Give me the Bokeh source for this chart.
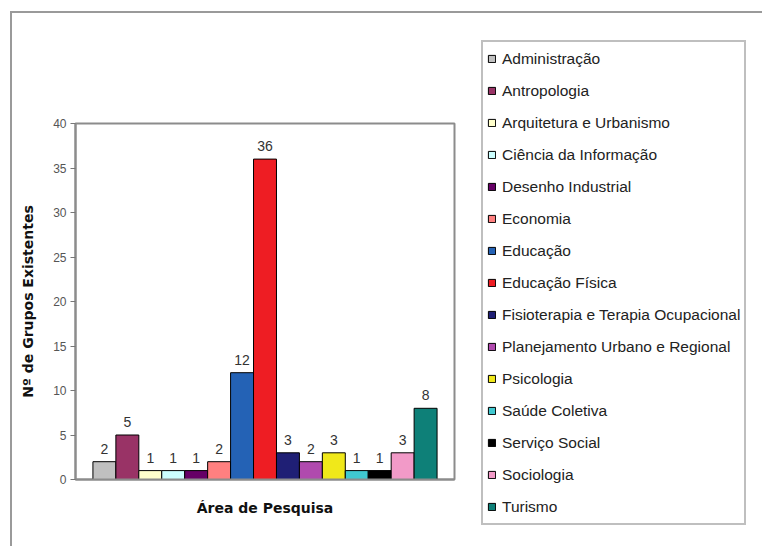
from bokeh.plotting import figure
from bokeh.models import Range1d, ColumnDataSource, Legend, LegendItem, FixedTicker, LabelSet
from bokeh.core.properties import value
from bokeh.embed import file_html
from bokeh.resources import INLINE

categories = ["Administração", "Antropologia", "Arquitetura e Urbanismo", "Ciência da Informação",
              "Desenho Industrial", "Economia", "Educação", "Educação Física",
              "Fisioterapia e Terapia Ocupacional", "Planejamento Urbano e Regional", "Psicologia",
              "Saúde Coletiva", "Serviço Social", "Sociologia", "Turismo"]
values = [2, 5, 1, 1, 1, 2, 12, 36, 3, 2, 3, 1, 1, 3, 8]
colors = ["#C0C0C0", "#993366", "#FFFFCC", "#CCFFFF", "#660066", "#FF8080", "#2462B5", "#EE1D23",
          "#1F1F75", "#B04AAE", "#F0E81A", "#40C8D0", "#000000", "#F29AC8", "#0E8078"]
y_ticks = [0, 5, 10, 15, 20, 25, 30, 35, 40]

p = figure(frame_width=379, frame_height=356, output_backend="svg", toolbar_location=None,
           x_range=Range1d(-1.26, 15.26), y_range=Range1d(0, 40),
           min_border_left=63, min_border_right=306, min_border_top=110, min_border_bottom=67)
p.margin = (11, 0, 0, 10)
p.styles = {"border-top": "2px solid #9a9a9a", "border-left": "2px solid #9a9a9a",
            "border-right": "1px solid #dddddd"}
p.background_fill_color = "white"
p.border_fill_color = "white"
p.outline_line_color = "#8c8c8c"
p.outline_line_width = 2
p.grid.visible = False

xs = list(range(len(categories)))
src = ColumnDataSource(dict(x=xs, top=values, lab=[str(v) for v in values]))

items = []
for i, c in enumerate(categories):
    r = p.vbar(x=[xs[i]], top=[values[i]], width=1.0, bottom=0,
               fill_color=colors[i], line_color="black", line_width=1)
    items.append(LegendItem(label=c, renderers=[r]))

labels = LabelSet(x="x", y="top", text="lab", source=src, text_align="center",
                  text_baseline="bottom", y_offset=8, text_font=value("Liberation Sans"),
                  text_font_size="14px", text_color="#333333")
p.add_layout(labels)

# axes
p.yaxis.ticker = FixedTicker(ticks=y_ticks)
p.yaxis.minor_tick_line_color = None
p.yaxis.major_tick_out = 5
p.yaxis.major_tick_in = 0
p.yaxis.major_tick_line_color = "#777777"
p.yaxis.axis_line_color = "#8c8c8c"
p.yaxis.axis_line_width = 2
p.yaxis.major_label_text_font = "Liberation Sans"
p.yaxis.major_label_text_font_size = "12px"
p.yaxis.major_label_text_color = "#555555"
p.yaxis.major_label_standoff = 4
p.yaxis.axis_label = "Nº de Grupos Existentes"
p.yaxis.axis_label_text_font = "DejaVu Sans"
p.yaxis.axis_label_text_font_style = "bold"
p.yaxis.axis_label_text_font_size = "14px"
p.yaxis.axis_label_text_color = "#111111"
p.yaxis.axis_label_standoff = 14

p.xaxis.ticker = FixedTicker(ticks=[])
p.xaxis.major_tick_line_color = None
p.xaxis.minor_tick_line_color = None
p.xaxis.major_label_text_font_size = "0px"
p.xaxis.axis_line_color = "#8c8c8c"
p.xaxis.axis_line_width = 2
p.xaxis.axis_label = "Área de Pesquisa"
p.xaxis.axis_label_text_font = "DejaVu Sans"
p.xaxis.axis_label_text_font_style = "bold"
p.xaxis.axis_label_text_font_size = "14px"
p.xaxis.axis_label_text_color = "#111111"
p.xaxis.axis_label_standoff = 20

legend = Legend(items=items, location=(27, -46), padding=4, spacing=7,
                label_height=25, glyph_height=9, glyph_width=9, label_standoff=6,
                label_text_font="Liberation Sans", label_text_font_size="15.5px",
                label_text_color="#222222", border_line_color="#808080",
                border_line_width=2, background_fill_color="white", margin=0)
p.add_layout(legend, "right")

open("out.html", "w").write(file_html(p, INLINE))
